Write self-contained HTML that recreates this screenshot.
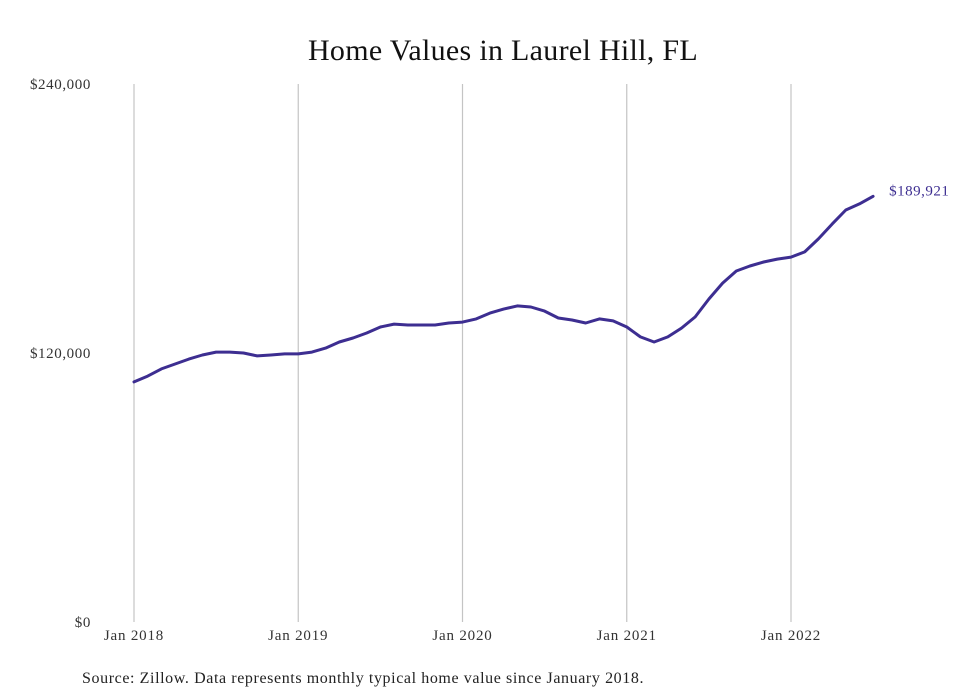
<!DOCTYPE html>
<html><head><meta charset="utf-8"><style>
body{margin:0;background:#fff;width:980px;height:699px;overflow:hidden}
svg{display:block}
text{font-family:"Liberation Serif",serif}
</style></head><body>
<svg width="980" height="699" id="chart">
<text x="503" y="60" text-anchor="middle" font-size="30" letter-spacing="0.3" fill="#111">Home Values in Laurel Hill, FL</text>
<g id="grid"></g><g id="yaxis"></g><g id="xaxis"></g><g id="series"></g>
<text x="82" y="683" font-size="16" letter-spacing="0.6" fill="#222">Source: Zillow. Data represents monthly typical home value since January 2018.</text>
</svg>
<script>
const yTicks=[0,120000,240000];
const yTickLabels=["$0","$120,000","$240,000"];
const xTickIdx=[0,12,24,36,48];
const xTickLabels=["Jan 2018","Jan 2019","Jan 2020","Jan 2021","Jan 2022"];
const values=[107.1,109.7,112.9,115.1,117.3,119.1,120.4,120.4,120.0,118.7,119.1,119.6,
119.6,120.4,122.2,124.9,126.7,128.9,131.6,132.9,132.5,132.5,132.5,133.4,
133.8,135.2,137.8,139.6,141.0,140.5,138.7,135.6,134.7,133.4,135.2,134.3,
131.6,127.2,124.9,127.2,131.1,136.1,144.1,151.2,156.6,158.8,160.6,161.9,
162.8,165.1,170.9,177.5,183.8,186.5,189.921].map(v=>v*1000);
const lastLabel="$189,921";
const NS="http://www.w3.org/2000/svg";
const x=i=>134+i*(791-134)/48;
const y=v=>622-v*(622-84)/240000;
function mk(tag,attrs,parent,txt){const e=document.createElementNS(NS,tag);for(const k in attrs)e.setAttribute(k,attrs[k]);if(txt!==undefined)e.textContent=txt;document.getElementById(parent).appendChild(e);return e;}
xTickIdx.forEach((idx,j)=>{
  const l=mk('line',{x1:x(idx),x2:x(idx),y1:84,y2:622,stroke:'#c4c4c4','stroke-width':1.2},'grid');
  
  
  const t=mk('text',{x:x(idx),y:640,'text-anchor':'middle','font-size':15,'letter-spacing':0.8,fill:'#333'},'xaxis',xTickLabels[j]);
  
  
});
yTicks.forEach((v,j)=>{
  const t=mk('text',{x:91,y:y(v)+5,'text-anchor':'end','font-size':15,'letter-spacing':0.6,fill:'#333'},'yaxis',yTickLabels[j]);
  
  
});
const d=values.map((v,i)=>(i?'L':'M')+x(i).toFixed(1)+','+y(v).toFixed(1)).join(' ');
const p=mk('path',{d:d,fill:'none',stroke:'#3d2e91','stroke-width':3,'stroke-linejoin':'round','stroke-linecap':'round'},'series');


const n=values.length-1;
const lt=mk('text',{x:x(n)+16,y:y(values[n])-1,'font-size':15,'letter-spacing':0.5,fill:'#3d2e91'},'series',lastLabel);


</script>
</body></html>
